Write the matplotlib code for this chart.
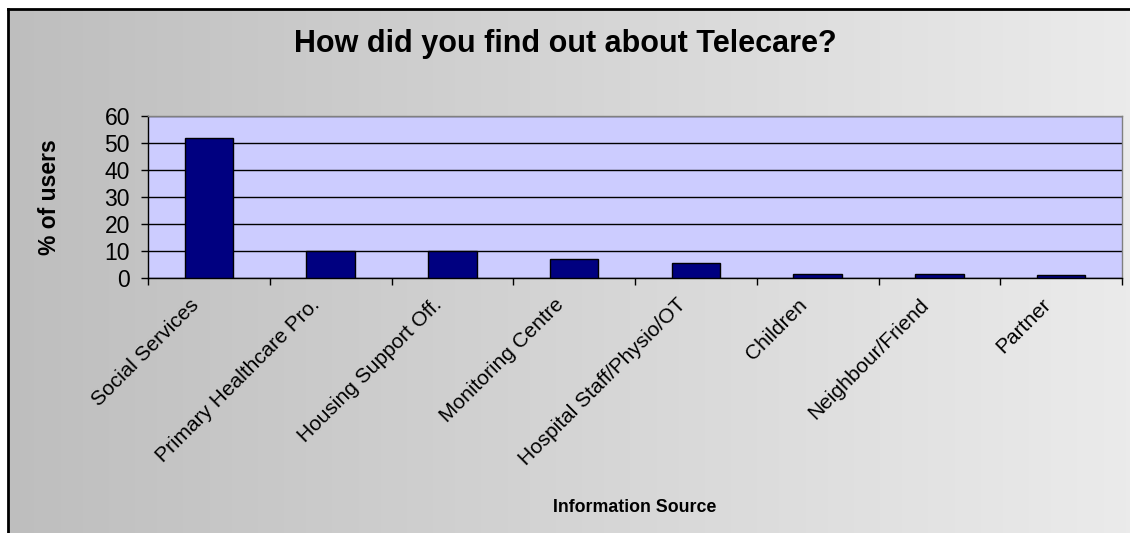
import matplotlib
matplotlib.use("Agg")
import matplotlib.pyplot as plt
import matplotlib.transforms as mtransforms
from matplotlib.colors import LinearSegmentedColormap
import numpy as np

# ── Data ──────────────────────────────────────────────────────────────────────
categories = [
    "Social Services",
    "Primary Healthcare Pro.",
    "Housing Support Off.",
    "Monitoring Centre",
    "Hospital Staff/Physio/OT",
    "Children",
    "Neighbour/Friend",
    "Partner",
]
pct_users = [51.7, 10.0, 9.9, 7.0, 5.8, 1.7, 1.7, 1.2]
y_ticks = [0, 10, 20, 30, 40, 50, 60]

plt.rcParams["font.family"] = ["Liberation Sans", "DejaVu Sans"]

W, H = 1130, 533
fig = plt.figure(figsize=(W / 100, H / 100), dpi=100)
fig.patch.set_facecolor("white")

# ── Gradient chart-area background with black frame on left/top ────────────
bg = fig.add_axes([8 / W, 0, 1 - 8 / W, 1 - 9 / H], zorder=0)
grad = np.linspace(0, 1, 256).reshape(1, -1)
cmap = LinearSegmentedColormap.from_list("bg", ["#bebebe", "#ebebeb"])
bg.imshow(grad, aspect="auto", cmap=cmap, extent=[0, 1, 0, 1])
bg.set_xlim(0, 1)
bg.set_ylim(0, 1)
bg.set_xticks([])
bg.set_yticks([])
for side in ["right", "bottom"]:
    bg.spines[side].set_visible(False)
for side in ["left", "top"]:
    bg.spines[side].set_color("black")
    bg.spines[side].set_linewidth(2)

# ── Plot area ─────────────────────────────────────────────────────────────────
x0, x1 = 148, 1122
y_top, y_zero = 115.7, 278.3
ax = fig.add_axes([x0 / W, (H - y_zero) / H, (x1 - x0) / W, (y_zero - y_top) / H], zorder=1)
ax.set_facecolor("#ccccff")

x = np.arange(len(categories))
ax.bar(x, pct_users, width=0.4, color="#000080", edgecolor="black",
       linewidth=1, zorder=3)

ax.set_xlim(-0.5, len(categories) - 0.5)
ax.set_ylim(0, 60)
ax.set_yticks(y_ticks)
ax.set_yticklabels([str(v) for v in y_ticks], fontsize=16.5)
ax.yaxis.grid(True, color="black", linewidth=1, zorder=1)
ax.set_axisbelow(True)

# ticks on category boundaries; labels drawn as texts under category centres
ax.set_xticks(np.arange(len(categories) + 1) - 0.5)
ax.set_xticklabels([])
ax.tick_params(axis="x", length=5, width=1, direction="out")
ax.tick_params(axis="y", length=5, width=1, direction="out", pad=8)

lab_trans = (mtransforms.blended_transform_factory(ax.transData, ax.transAxes)
             + mtransforms.ScaledTranslation(-20 / 100, -17 / 100, fig.dpi_scale_trans))
for xi, name in zip(x, categories):
    ax.text(xi, 0, name, transform=lab_trans, rotation=45, ha="right",
            va="top", rotation_mode="anchor", fontsize=15, clip_on=False)

ax.spines["left"].set_color("black")
ax.spines["bottom"].set_color("black")
ax.spines["top"].set_color("#808080")
ax.spines["right"].set_color("#808080")
for s in ax.spines.values():
    s.set_linewidth(1)

# ── Titles ────────────────────────────────────────────────────────────────────
fig.text(565 / W, 1 - 44 / H, "How did you find out about Telecare?",
         ha="center", va="center", fontsize=22, fontweight="bold")
fig.text(50 / W, 1 - 197 / H, "% of users", ha="center", va="center",
         rotation=90, fontsize=16.5, fontweight="bold")
fig.text(635 / W, 1 - 508 / H, "Information Source", ha="center",
         va="center", fontsize=12.8, fontweight="bold")

fig.savefig("out.png", dpi=100)
